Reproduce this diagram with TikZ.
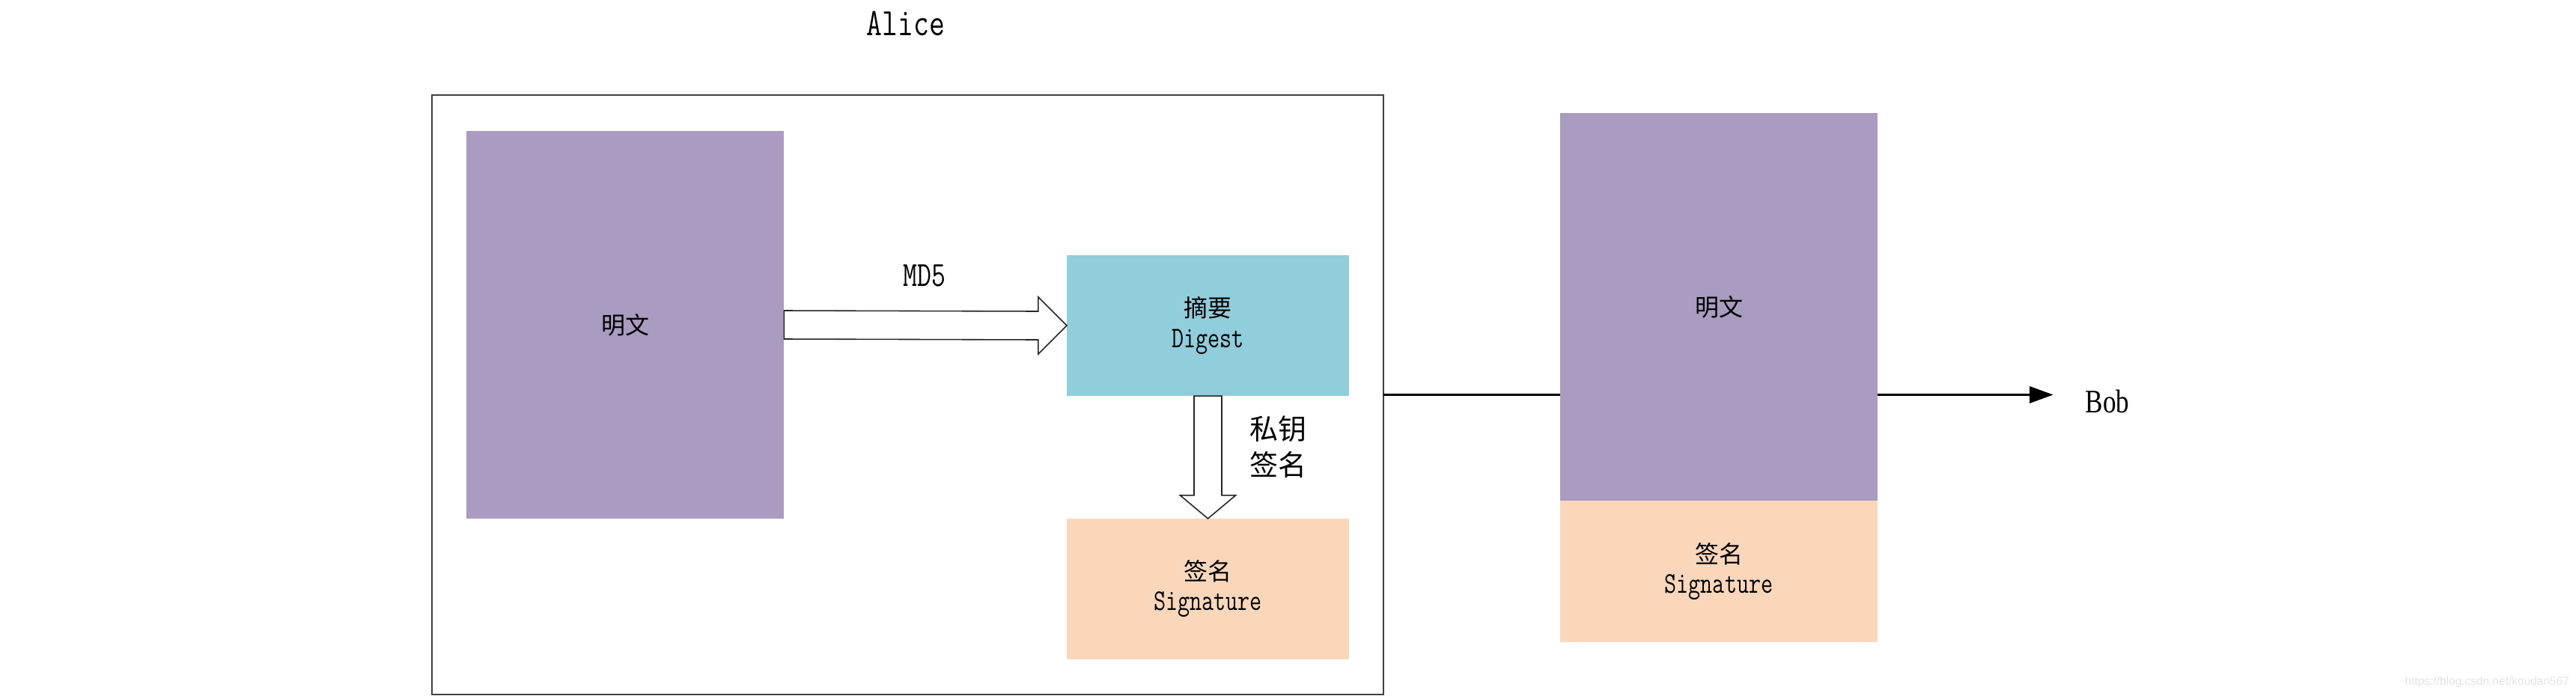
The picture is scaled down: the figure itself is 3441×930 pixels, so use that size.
\documentclass[tikz,border=0pt]{standalone}
\usepackage{fontspec}
\newfontfamily\cjk{Noto Sans CJK SC}
\newfontfamily\lat[FakeStretch=0.78,Scale=1.25]{Latin Modern Mono}
\newfontfamily\latser[FakeStretch=0.8]{Liberation Serif}
\newfontfamily\wm{Liberation Sans}
\usetikzlibrary{arrows.meta,calc}
\definecolor{cpurple}{RGB}{170,155,192}
\definecolor{cblue}{RGB}{146,205,220}
\definecolor{cpeach}{RGB}{250,215,187}
\definecolor{cframe}{RGB}{64,64,64}
\definecolor{cwm}{RGB}{228,228,228}
\tikzset{
  blockbox/.style={inner sep=0pt, outer sep=0pt, align=center,
    font={\fontsize{9.1}{11.4}\selectfont}},
  frame/.style={draw=cframe, line width=0.6pt, inner sep=0pt, outer sep=0pt,
    minimum width=12.71cm, minimum height=8.01cm},
  fatarrow/.style={draw=black!85, line width=0.45pt, fill=white, line join=miter},
  conn/.style={draw=black, line width=0.85pt},
  lbl/.style={inner sep=0pt, outer sep=0pt, align=center}
}
\begin{document}
\begin{tikzpicture}[x=0.01cm,y=-0.01cm]
\useasboundingbox[fill=white] (0,0) rectangle (3441,930);

% Alice frame
\node[frame] (outer) at (1212.5,527.5) {};
\node[lbl, font={\lat\fontsize{11.8}{14}\selectfont}] (alice) at (1210,31) {Alice};

% left plaintext
\node[blockbox, fill=cpurple, minimum width=4.245cm, minimum height=5.18cm] (ptA) at (835,434) {\cjk 明文};
% digest
\node[blockbox, fill=cblue, minimum width=3.77cm, minimum height=1.88cm] (dg) at (1613.5,435) {\cjk 摘要\\\lat Digest};
% signature in Alice
\node[blockbox, fill=cpeach, minimum width=3.77cm, minimum height=1.88cm] (sgA) at (1613.5,787) {\cjk 签名\\\lat Signature};

% MD5 block arrow
\draw[fatarrow] ($(ptA.east)+(0,-19)$) -- ($(dg.west)+(-38,-19)$) -- ($(dg.west)+(-38,-38)$)
  -- (dg.west) -- ($(dg.west)+(-38,38)$) -- ($(dg.west)+(-38,19)$) -- ($(ptA.east)+(0,19)$) -- cycle;
\node[lbl, font={\lat\fontsize{10.7}{13}\selectfont}] (md5) at (1235,368) {MD5};

% signing block arrow
\draw[fatarrow] ($(dg.south)+(-18.5,0)$) -- ($(sgA.north)+(-18.5,-31)$) -- ($(sgA.north)+(-37,-31)$)
  -- (sgA.north) -- ($(sgA.north)+(37,-31)$) -- ($(sgA.north)+(18.5,-31)$) -- ($(dg.south)+(18.5,0)$) -- cycle;
\node[lbl, font={\cjk\fontsize{10.8}{13.4}\selectfont}] (key) at (1707,597) {私钥\\签名};

% transmitted message
\node[blockbox, fill=cpurple, minimum width=4.24cm, minimum height=5.18cm] (ptB) at (2296,410) {\cjk 明文};
\node[blockbox, fill=cpeach, minimum width=4.24cm, minimum height=1.89cm] (sgB) at (2296,763.5) {\cjk 签名\\\lat Signature};

\node[lbl, font={\latser\fontsize{12.5}{15}\selectfont}] (bob) at (2815,536) {Bob};

% connectors
\draw[conn] (outer.east) -- (outer.east -| ptB.west);
\draw[conn, -{Triangle[length=9pt,width=6.3pt]}, shorten >=0.43cm] (outer.east -| ptB.east) -- (outer.east -| bob.west);

% watermark
\node[lbl, anchor=east, text=cwm, font={\wm\fontsize{4.4}{5}\selectfont}] (wmk) at (3432,911) {https://blog.csdn.net/koudan567};
\end{tikzpicture}
\end{document}
